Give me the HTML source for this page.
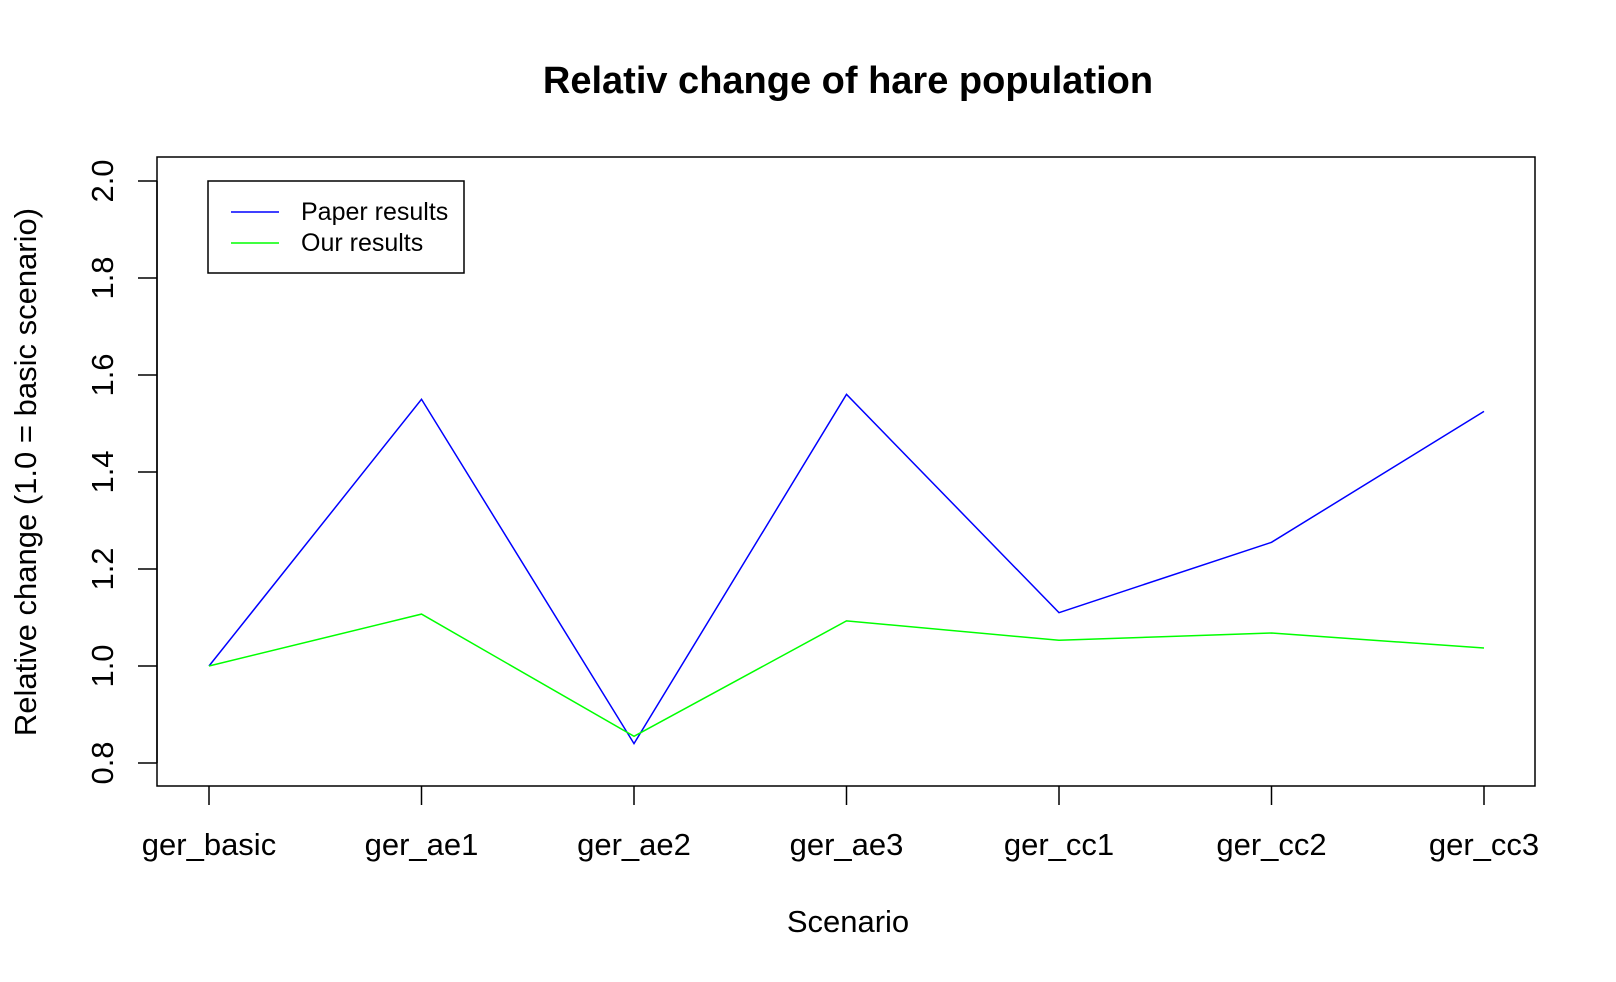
<!DOCTYPE html>
<html><head><meta charset="utf-8"><style>
html,body{margin:0;padding:0;background:#fff}
svg{display:block;font-family:"Liberation Sans",Arial,sans-serif}
</style></head><body>
<svg id="chart" width="1616" height="982" viewBox="0 0 1616 982">
<text x="848" y="93" text-anchor="middle" font-size="38" font-weight="bold">Relativ change of hare population</text>
<rect x="157" y="157" width="1378" height="629" fill="none" stroke="#000" stroke-width="1.5"/>
<g id="yaxis"></g>
<g id="xaxis"></g>
<g id="series"></g>
<text x="848" y="932" text-anchor="middle" font-size="31">Scenario</text>
<text transform="translate(36,472) rotate(-90)" text-anchor="middle" font-size="31">Relative change (1.0 = basic scenario)</text>
<g>
<rect x="208" y="181" width="256" height="92" fill="#fff" stroke="#000" stroke-width="1.5"/>
<line x1="231" y1="212" x2="279" y2="212" stroke="#0000ff" stroke-width="1.5"/>
<text x="301" y="220" font-size="25">Paper results</text>
<line x1="231" y1="243" x2="279" y2="243" stroke="#00ff00" stroke-width="1.5"/>
<text x="301" y="251" font-size="25">Our results</text>
</g>
</svg>
<script>
const categories=["ger_basic","ger_ae1","ger_ae2","ger_ae3","ger_cc1","ger_cc2","ger_cc3"];
const paperValues=[1.0,1.55,0.84,1.56,1.11,1.255,1.525];
const ourValues=[1.0,1.107,0.855,1.093,1.053,1.068,1.037];
const yTicks=[0.8,1.0,1.2,1.4,1.6,1.8,2.0];
const yTickLabels=["0.8","1.0","1.2","1.4","1.6","1.8","2.0"];
const NS="http://www.w3.org/2000/svg";
function xs(i){return 209+i*212.5;}
function ys(v){return 181+(2.0-v)*485;}
function mk(t,a){const e=document.createElementNS(NS,t);for(const k in a)e.setAttribute(k,a[k]);return e;}
const ya=document.getElementById('yaxis'),xa=document.getElementById('xaxis'),sg=document.getElementById('series');
ya.appendChild(mk('line',{x1:157,x2:157,y1:ys(0.8),y2:ys(2.0),stroke:'#000','stroke-width':1.5}));
yTicks.forEach((v,i)=>{
 const l=mk('line',{x1:138,x2:157,y1:ys(v),y2:ys(v),stroke:'#000','stroke-width':1.5});
 
 
 ya.appendChild(l);
 const t=mk('text',{transform:`translate(113,${ys(v)}) rotate(-90)`,'text-anchor':'middle','font-size':31});
 
 
 t.textContent=yTickLabels[i];ya.appendChild(t);
});
categories.forEach((c,i)=>{
 const l=mk('line',{x1:xs(i),x2:xs(i),y1:786,y2:805,stroke:'#000','stroke-width':1.5});
 
 
 xa.appendChild(l);
 const t=mk('text',{x:xs(i),y:855,'text-anchor':'middle','font-size':31});
 
 
 t.textContent=c;xa.appendChild(t);
});
function line(vals,color,name){
 const p=mk('polyline',{points:vals.map((v,i)=>xs(i)+','+ys(v)).join(' '),fill:'none',stroke:color,'stroke-width':1.5});
 
 
 sg.appendChild(p);
}
line(paperValues,'#0000ff','paper-results-line');
line(ourValues,'#00ff00','our-results-line');
</script>
</body></html>
